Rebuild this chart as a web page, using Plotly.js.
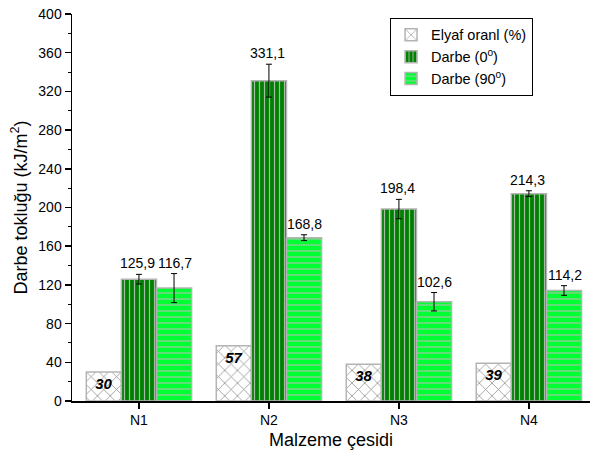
<!DOCTYPE html>
<html>
<head>
<meta charset="utf-8">
<script src="https://cdn.plot.ly/plotly-3.0.1.min.js"></script>
<style>html,body{margin:0;padding:0;background:#fff;}#chart{width:591px;height:454px;}</style>
</head>
<body>
<div id="chart"></div>
<script>
const categories = ["N1", "N2", "N3", "N4"];
const fiberRatio = [30, 57, 38, 39];
const impact0 = [125.9, 331.1, 198.4, 214.3];
const impact0Err = [5, 17, 10, 3];
const impact90 = [116.7, 168.8, 102.6, 114.2];
const impact90Err = [15, 3, 9.5, 5];
const yTicks = [0, 40, 80, 120, 160, 200, 240, 280, 320, 360, 400];

const fmt = v => v.toFixed(1).replace('.', ',');
const border = {color: '#b4b4b4', width: 1.5};
const font = "Arial, 'Liberation Sans', sans-serif";

const traces = [
  {
    type: 'bar', name: 'Elyaf oranl (%)', x: categories, y: fiberRatio,
    marker: {color: '#ffffff', line: border,
      pattern: {shape: 'x', fgcolor: '#8a8a8a', bgcolor: '#ffffff', size: 9, solidity: 0.16}},
    text: fiberRatio.map(String), textposition: 'inside', insidetextanchor: 'end',
    textangle: 0,
    textfont: {family: font, size: 15, color: '#000', weight: 'bold', style: 'italic'},
    cliponaxis: false
  },
  {
    type: 'bar', name: 'Darbe (0<sup>o</sup>)', x: categories, y: impact0,
    marker: {color: '#008000', line: border,
      pattern: {shape: '|', fgcolor: '#a6bca6', bgcolor: '#008000', size: 5, solidity: 0.24}},
    error_y: {type: 'data', array: impact0Err, visible: true, color: '#000', thickness: 1, width: 3}
  },
  {
    type: 'bar', name: 'Darbe (90<sup>o</sup>)', x: categories, y: impact90,
    marker: {color: '#00ff33', line: border,
      pattern: {shape: '-', fgcolor: '#a6c4a6', bgcolor: '#00ff33', size: 6, solidity: 0.2}},
    error_y: {type: 'data', array: impact90Err, visible: true, color: '#000', thickness: 1, width: 3}
  }
];

const annotations = [];
categories.forEach((c, i) => {
  annotations.push({x: c, y: impact0[i] + impact0Err[i], xref: 'x', yref: 'y', xshift: -1,
    text: fmt(impact0[i]), showarrow: false, yanchor: 'bottom', yshift: 1,
    font: {family: font, size: 14, color: '#000'}});
  annotations.push({x: c, y: impact90[i] + impact90Err[i], xref: 'x', yref: 'y', xshift: 36,
    text: fmt(impact90[i]), showarrow: false, yanchor: 'bottom', yshift: 1,
    font: {family: font, size: 14, color: '#000'}});
});

const layout = {
  width: 591, height: 454,
  margin: {l: 72, r: 1, t: 14, b: 53},
  paper_bgcolor: '#fff', plot_bgcolor: '#fff',
  barmode: 'group', bargap: 0.19, bargroupgap: 0,
  font: {family: font, size: 14, color: '#000'},
  showlegend: true,
  legend: {x: 0.614, y: 0.99, xanchor: 'left', yanchor: 'top',
    bordercolor: '#000', borderwidth: 1, bgcolor: '#fff',
    font: {family: font, size: 14.5, color: '#000'}, tracegroupgap: 0, itemwidth: 30},
  xaxis: {
    range: [-0.515, 3.47], showline: true, linecolor: '#000', linewidth: 1.5,
    ticks: 'outside', ticklen: 6, tickwidth: 1.5, tickcolor: '#000',
    showgrid: false, zeroline: false,
    minor: {ticks: 'outside', ticklen: 4, tickwidth: 1.5, tickcolor: '#000', dtick: 1, tick0: 0.5},
    tickfont: {family: font, size: 14, color: '#000'},
    title: {text: 'Malzeme çesidi', font: {family: font, size: 18, color: '#000'}, standoff: 6}
  },
  yaxis: {
    range: [0, 400], showline: true, linecolor: '#000', linewidth: 1.5,
    tickvals: yTicks, ticktext: yTicks.map(String),
    ticks: 'outside', ticklen: 6, tickwidth: 1.5, tickcolor: '#000',
    minor: {ticks: 'outside', ticklen: 3, tickwidth: 1, tickcolor: '#000', tickvals: yTicks.slice(0, -1).map(v => v + 20)},
    showgrid: false, zeroline: false,
    tickfont: {family: font, size: 14, color: '#000'},
    title: {text: 'Darbe tokluğu (kJ/m<sup>2</sup>)', font: {family: font, size: 18, color: '#000'}, standoff: 6}
  },
  annotations: annotations
};

Plotly.newPlot('chart', traces, layout, {displayModeBar: false, staticPlot: true});
</script>
</body>
</html>
